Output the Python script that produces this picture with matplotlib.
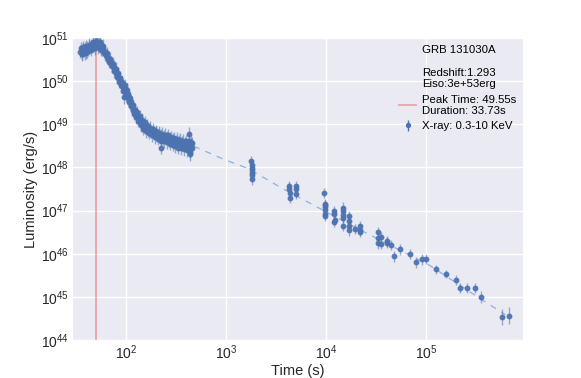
import numpy as np
import matplotlib
matplotlib.use('Agg')
import matplotlib.pyplot as plt
from matplotlib.lines import Line2D

plt.rcParams['font.family'] = ['Liberation Sans', 'DejaVu Sans']
plt.rcParams['mathtext.default'] = 'regular'

# ---- data ----
# early dense X-ray data: time (s), log10 luminosity (erg/s)
t_early = [35, 36, 37, 38, 39, 40, 41, 42, 43, 44, 45, 46, 47, 48, 49, 50, 51, 52, 53, 54,
           55, 56, 57, 58, 59, 60, 62, 63, 65, 66, 68, 70, 71, 73, 75, 77, 78, 80, 82, 84,
           86, 88, 90, 92, 94, 95, 96, 98, 100, 102, 104, 106, 108, 110, 112, 115, 117, 120, 123, 126,
           129, 132, 135, 139, 143, 147, 151, 156, 161, 166, 172, 178, 184, 190, 197, 204, 211, 218, 226, 226,
           234, 242, 250, 259, 268, 277, 287, 297, 307, 318, 329, 340, 352, 364, 377, 390, 403, 417, 424, 431,
           436, 445, 455, 460,
           35.5, 36.5, 37.5, 38.5, 39.5, 40.5, 42.5, 44.5, 46.5, 48.5, 50.5, 52.5, 54.5, 56.5, 58.5, 61, 64, 67, 69, 72,
           74, 76, 79, 81, 83, 85, 87, 89, 91, 93, 97, 99, 101, 103, 105, 107, 109, 111, 113, 116,
           118, 121, 124, 127, 130, 133, 137, 141, 145, 149, 153, 158, 163, 169, 175, 181, 187, 193, 200, 207,
           214, 222, 230, 238, 246, 254, 263, 272, 282, 292, 302, 312, 323, 334, 346, 358, 370, 383, 396, 410,
           424, 438, 450]
logL_early = [50.68, 50.63, 50.73, 50.70, 50.75, 50.66, 50.78, 50.74, 50.80, 50.77, 50.83, 50.79, 50.86, 50.82, 50.88, 50.84, 50.89, 50.85, 50.87, 50.82,
              50.84, 50.78, 50.80, 50.73, 50.75, 50.68, 50.66, 50.60, 50.58, 50.52, 50.50, 50.43, 50.44, 50.36, 50.33, 50.26, 50.28, 50.18, 50.16, 50.06,
              50.04, 49.96, 49.95, 49.88, 49.86, 49.62, 49.80, 49.82, 49.74, 49.72, 49.64, 49.62, 49.54, 49.52, 49.45, 49.42, 49.36, 49.32, 49.28, 49.24,
              49.20, 49.14, 49.12, 49.06, 49.04, 48.98, 48.96, 48.92, 48.90, 48.86, 48.88, 48.82, 48.84, 48.78, 48.80, 48.74, 48.77, 48.71, 48.74, 48.46,
              48.68, 48.71, 48.66, 48.69, 48.63, 48.66, 48.60, 48.64, 48.58, 48.61, 48.55, 48.59, 48.53, 48.57, 48.51, 48.55, 48.49, 48.53, 48.78, 48.47,
              48.30, 48.52, 48.45, 48.56,
              50.76, 50.62, 50.78, 50.64, 50.80, 50.68, 50.84, 50.72, 50.90, 50.76, 50.93, 50.78, 50.90, 50.72, 50.82, 50.62, 50.64, 50.44, 50.52, 50.34,
              50.40, 50.22, 50.28, 50.10, 50.18, 49.98, 50.06, 49.90, 49.98, 49.78, 49.90, 49.68, 49.80, 49.62, 49.70, 49.52, 49.60, 49.42, 49.52, 49.34,
              49.44, 49.24, 49.34, 49.16, 49.28, 49.08, 49.18, 48.98, 49.10, 48.90, 49.04, 48.84, 48.98, 48.80, 48.92, 48.74, 48.88, 48.70, 48.84, 48.66,
              48.80, 48.62, 48.78, 48.60, 48.76, 48.58, 48.74, 48.55, 48.70, 48.52, 48.68, 48.49, 48.66, 48.46, 48.64, 48.44, 48.62, 48.42, 48.60, 48.40,
              48.62, 48.36, 48.58]
err_early = 0.15  # dex

# late X-ray data
t_late = [1790, 1800, 1810, 1820, 1810, 1830, 1800,
          4250, 4300, 4350, 4320, 4960, 4960, 4960,
          9600, 9700, 9750, 9800, 9700, 9650, 9750,
          12000, 12100, 12150, 12050,
          14700, 14800, 14900, 14750, 14800,
          16800, 16900, 17000, 16900,
          19300,
          21800, 21900, 22000,
          33000, 33100, 33200, 35500, 35500, 40300, 40700, 44700, 47500, 54500, 68500, 79800, 90800, 98900,
          125000, 160000, 198000, 219000, 255000, 311000, 351000, 569000, 673000]
logL_late = [48.15, 48.05, 47.93, 47.86, 47.82, 47.72, 47.98,
             47.56, 47.51, 47.41, 47.29, 47.56, 47.49, 47.39,
             47.41, 47.16, 47.08, 47.01, 46.93, 46.87, 47.12,
             46.98, 46.91, 46.78, 46.74,
             47.07, 46.98, 46.89, 46.84, 46.64,
             46.88, 46.75, 46.64, 46.54,
             46.57,
             46.64, 46.56, 46.51,
             46.50, 46.37, 46.24, 46.39, 46.22, 46.29, 46.26, 46.21, 45.94, 46.10, 46.00, 45.80, 45.87, 45.88,
             45.64, 45.53, 45.39, 45.21, 45.21, 45.21, 45.00, 44.54, 44.57]
err_late = [0.12] * 52 + [0.1, 0.1, 0.11, 0.12, 0.12, 0.12, 0.13, 0.18, 0.2]

# power-law fit (dashed)
t_fit = [475, 966, 1675, 3730, 8980, 24300, 109000, 394000, 622000]
logL_fit = [48.49, 48.18, 47.97, 47.50, 47.03, 46.50, 45.73, 44.88, 44.59]

peak_time = 49.55
legend_info = "GRB 131030A\n\nRedshift:1.293\nEiso:3e+53erg"
peak_label = "Peak Time: 49.55s\nDuration: 33.73s"
xray_label = "X-ray: 0.3-10 KeV"

# ---- figure ----
fig = plt.figure(figsize=(5.81, 3.78), dpi=100)
ax = fig.add_axes([0.125, 0.1, 0.775, 0.8])
ax.set_facecolor('#EAEAF2')
for s in ax.spines.values():
    s.set_visible(False)
ax.set_xscale('log')
ax.set_yscale('log')
ax.grid(True, which='major', color='white', linewidth=1.0)
ax.set_axisbelow(True)
ax.tick_params(which='both', length=0, labelsize=10, pad=2.5, colors='#262626')
ax.minorticks_off()

blue = '#4c72b0'

t = np.array(t_early + t_late, dtype=float)
lg = np.array(logL_early + logL_late)
e = np.array([err_early] * len(t_early) + err_late)
L = 10 ** lg
yerr = np.vstack([L - 10 ** (lg - e), 10 ** (lg + e) - L])

ax.plot(t_fit, 10 ** np.array(logL_fit), linestyle=(0, (5, 5)), color='#8fb0dc', lw=0.9, zorder=1)
ax.axvline(peak_time, color='#eb7d84', alpha=0.65, lw=1.3, zorder=2)
eb = ax.errorbar(t, L, yerr=yerr, fmt='o', ms=3.2, color=blue, ecolor=blue,
                 elinewidth=1.0, alpha=0.9, zorder=3)
for c in eb[2]:
    c.set_alpha(0.55)

ax.set_xlim(29.2, 9.3e5)
ax.set_ylim(1e44, 1e51)
ax.set_xlabel('Time (s)', fontsize=10.5, color='#262626', labelpad=1)
ax.set_ylabel('Luminosity (erg/s)', fontsize=10.5, color='#262626', labelpad=2)

h_info = Line2D([], [], linestyle='none')
h_peak = Line2D([], [], color='#eb7d84', alpha=0.65, lw=1.3)
h_x = ax.errorbar([], [], yerr=[], fmt='o', ms=2.8, color=blue, ecolor=blue, elinewidth=1.0)
leg = ax.legend([h_info, h_peak, h_x], [legend_info, peak_label, xray_label],
                loc='upper right', frameon=False, fontsize=8.2, handlelength=1.5,
                handletextpad=0.5, borderaxespad=0.2, labelspacing=0.45)

fig.savefig('out.png', dpi=100)
